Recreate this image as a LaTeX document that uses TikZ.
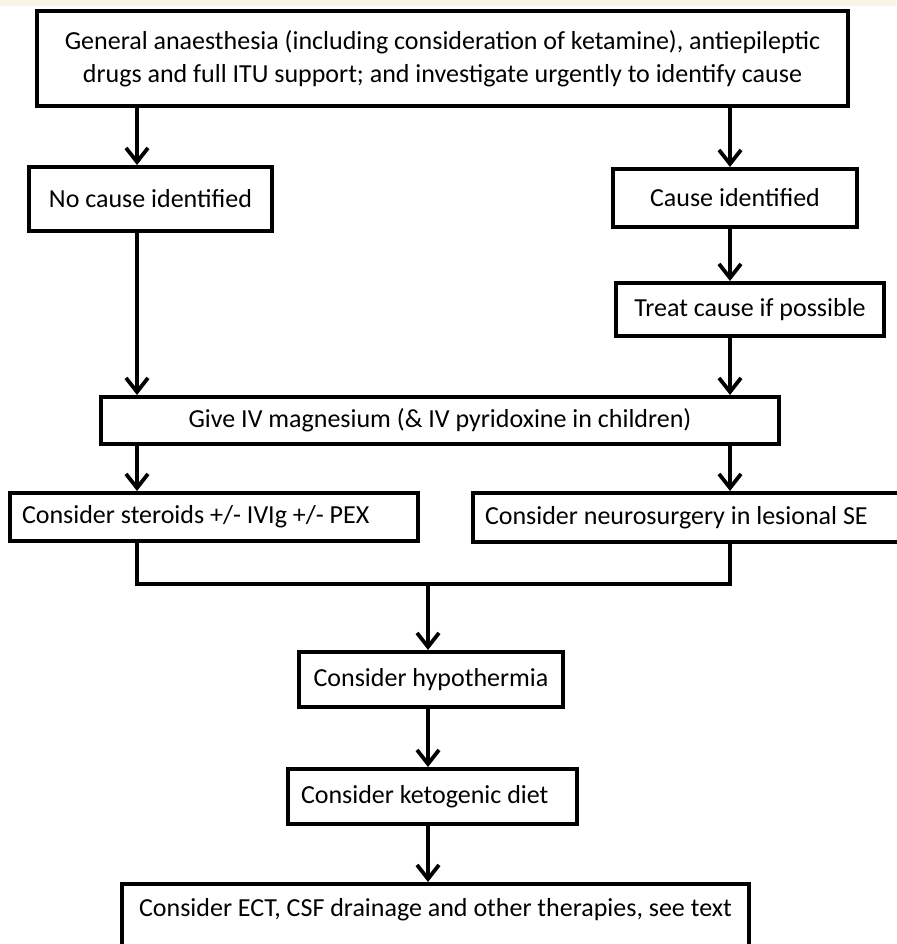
\documentclass[tikz,border=0pt]{standalone}
\usepackage{fontspec}
\setmainfont{Carlito}
\usetikzlibrary{arrows.meta,calc}
\definecolor{cream}{RGB}{248,244,230}
\begin{document}
\begin{tikzpicture}[x=1pt,y=-1pt,
  box/.style={draw=black, line width=4pt, fill=white, inner sep=0pt, align=center,
    font=\fontsize{26}{33}\selectfont},
  leftbox/.style={box, inner xsep=12pt},
  txt/.style={inner sep=0pt, align=center, font=\fontsize{26}{33}\selectfont},
  arr/.style={line width=3.8pt, -{Straight Barb[length=14pt,width=22pt]}},
  link/.style={line width=3.8pt, line join=miter}]
\useasboundingbox (0,0) rectangle (896,944);
\fill[white] (0,0) rectangle (896,944);
\fill[cream] (0,0) rectangle (896,6);
% column coordinates
\coordinate (L) at (137,0);
\coordinate (R) at (730,0);
\coordinate (C) at (428,0);
% boxes
\node[box, minimum width=811pt, minimum height=95pt] (top) at (442.5,58.5)
  {General anaesthesia (including consideration of ketamine), antiepileptic\\
   drugs and full ITU support; and investigate urgently to identify cause};
\node[box, minimum width=243pt, minimum height=64pt] (nocause) at (150.5,199) {No cause identified};
\node[box, minimum width=244pt, minimum height=58pt] (cause) at (735,198) {Cause identified};
\node[box, minimum width=268pt, minimum height=53pt] (treat) at (750,309.5) {Treat cause if possible};
\node[box, minimum width=678pt, minimum height=47pt] (mag) at (440,420.5) {Give IV magnesium (\& IV pyridoxine in children)};
\node[leftbox, minimum height=48pt] (ster) at (214,517) {\makebox[384pt][l]{Consider steroids +/- IVIg +/- PEX}};
\node[leftbox, minimum height=49pt] (neuro) at (689,517.5) {\makebox[408pt][l]{Consider neurosurgery in lesional SE}};
\node[box, minimum width=264pt, minimum height=55pt] (hypo) at (431,679.5) {Consider hypothermia};
\node[leftbox, inner xsep=13pt, minimum height=55pt] (keto) at (432.5,796.5) {\makebox[263pt][l]{Consider ketogenic diet}};
\node[box, minimum width=627pt, minimum height=80pt, anchor=north] (ect) at (435.5,882) {};
\node[txt] (ecttext) at (435.5,910) {Consider ECT, CSF drainage and other therapies, see text};
% merge point
\coordinate (M) at (428,584);
% connectors
\draw[arr] (top.south -| L) -- (nocause.north -| L);
\draw[arr] (top.south -| R) -- (cause.north -| R);
\draw[arr] (cause.south -| R) -- (treat.north -| R);
\draw[arr] (nocause.south -| L) -- (mag.north -| L);
\draw[arr] (treat.south -| R) -- (mag.north -| R);
\draw[arr] (mag.south -| L) -- (ster.north -| L);
\draw[arr] (mag.south -| R) -- (neuro.north -| R);
\draw[link] (ster.south -| L) |- (M) -| (neuro.south -| R);
\draw[arr] (M) -- (hypo.north -| M);
\draw[arr] (hypo.south -| C) -- (keto.north -| C);
\draw[arr] (keto.south -| C) -- (ect.north -| C);
\end{tikzpicture}
\end{document}
